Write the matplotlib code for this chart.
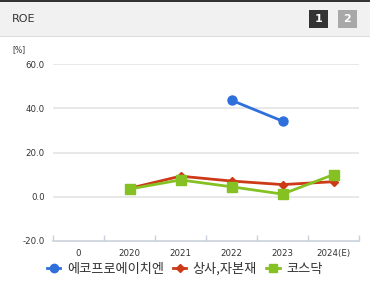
import matplotlib
matplotlib.use('Agg')
import matplotlib.pyplot as plt
from matplotlib.patches import Rectangle
from matplotlib.lines import Line2D
import numpy as np

plt.rcParams['font.family'] = ['Noto Sans CJK KR', 'DejaVu Sans']

# ── Data ──
categories = ['0', '2020', '2021', '2022', '2023', '2024(E)']
ecopro = [np.nan, np.nan, np.nan, 43.6, 34.2, np.nan]
sector = [np.nan, 3.8, 9.3, 7.1, 5.5, 6.8]
kosdaq = [np.nan, 3.5, 7.6, 4.5, 1.2, 10.0]
series_names = ['에코프로에이치엔', '상사,자본재', '코스닥']
y_ticks = [-20, 0, 20, 40, 60]

W, H = 370, 285
fig = plt.figure(figsize=(W / 100, H / 100), dpi=100)

def fx(px):
    return px / W

def fy(py):
    return 1 - py / H

# ── Header band ──
fig.patches.append(Rectangle((0, fy(36)), 1, fy(2) - fy(36), transform=fig.transFigure,
                             facecolor='#f1f1f1', edgecolor='none', zorder=0))
fig.patches.append(Rectangle((0, fy(2)), 1, 1 - fy(2), transform=fig.transFigure,
                             facecolor='#333333', edgecolor='none', zorder=1))
fig.patches.append(Rectangle((0, fy(37)), 1, fy(36) - fy(37), transform=fig.transFigure,
                             facecolor='#dcdcdc', edgecolor='none', zorder=1))
fig.text(fx(12), fy(19), 'ROE', fontsize=8, color='#333333', va='center', ha='left',
         family=['DejaVu Sans'])
fig.patches.append(Rectangle((fx(309), fy(28)), fx(19), fy(10) - fy(28), transform=fig.transFigure,
                             facecolor='#333333', edgecolor='none', zorder=2))
fig.patches.append(Rectangle((fx(338), fy(28)), fx(19), fy(10) - fy(28), transform=fig.transFigure,
                             facecolor='#a8a8a8', edgecolor='none', zorder=2))
fig.text(fx(318.5), fy(19), '1', fontsize=8, color='white', fontweight='bold',
         ha='center', va='center', family=['DejaVu Sans'])
fig.text(fx(347.5), fy(19), '2', fontsize=8, color='white', fontweight='bold',
         ha='center', va='center', family=['DejaVu Sans'])

# ── Plot ──
ax = fig.add_axes([fx(53), fy(241), fx(359) - fx(53), fy(64) - fy(241)])
x = np.arange(len(categories))

ax.plot(x, ecopro, color='#2f6fdc', lw=2, marker='o', ms=6.5, zorder=4)
ax.plot(x, sector, color='#cc3a17', lw=2, marker='D', ms=4.5, zorder=3)
ax.plot(x, kosdaq, color='#86c124', lw=2, marker='s', ms=6.5, zorder=3.5)

ax.set_xlim(-0.5, len(categories) - 0.5)
ax.set_ylim(-20, 60)
ax.set_yticks(y_ticks)
ax.set_yticklabels([f'{v:.1f}' for v in y_ticks])
ax.set_xticks(x)
ax.set_xticklabels(categories)
ax.set_xticks(np.arange(len(categories) + 1) - 0.5, minor=True)

for v in y_ticks[1:]:
    ax.axhline(v, color='#e4e4e4', lw=1.2, zorder=0)

for s in ['top', 'right', 'left']:
    ax.spines[s].set_visible(False)
ax.spines['bottom'].set_color('#c9d2dc')
ax.spines['bottom'].set_linewidth(1.2)

ax.tick_params(axis='both', which='major', length=0, labelsize=6.2, labelcolor='#333333')
ax.tick_params(axis='x', which='major', pad=6)
ax.tick_params(axis='y', which='major', pad=6)
ax.tick_params(axis='x', which='minor', direction='in', length=4, color='#c9d2dc', width=1)
for lbl in ax.get_xticklabels() + ax.get_yticklabels():
    lbl.set_family(['DejaVu Sans'])

fig.text(fx(12), fy(50), '[%]', fontsize=5.5, color='#333333', va='center', ha='left',
         family=['DejaVu Sans'])

# ── Legend ──
handles = [
    Line2D([0], [0], color='#2f6fdc', lw=2, marker='o', ms=6),
    Line2D([0], [0], color='#cc3a17', lw=2, marker='D', ms=4.5),
    Line2D([0], [0], color='#86c124', lw=2, marker='s', ms=6),
]
fig.legend(handles, series_names, loc='center left', bbox_to_anchor=(fx(47), fy(269)),
           ncol=3, frameon=False, fontsize=9.5, handlelength=1.0, handletextpad=0.5,
           columnspacing=0.7, labelcolor='#333333', borderaxespad=0, borderpad=0)

plt.savefig('out.png', dpi=100)
plt.close()
